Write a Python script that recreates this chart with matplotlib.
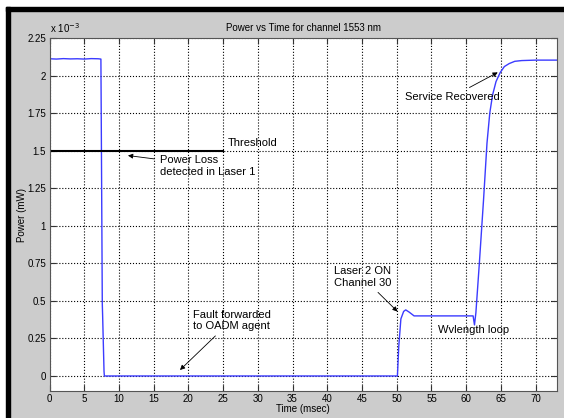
import matplotlib.pyplot as plt
from matplotlib.ticker import MultipleLocator, FormatStrFormatter
from matplotlib.patches import Rectangle

# time in msec, power in units of 1e-3 mW
t = [0, 1, 2, 3, 4, 5, 6, 7, 7.4, 7.45, 7.6, 7.65, 7.85, 7.9, 10, 20, 30, 40,
     50.1, 50.3, 50.6, 51.0, 51.3, 51.8, 52.5, 55, 60, 61.0, 61.2, 61.4,
     61.9, 62.5, 63.0, 63.4, 63.8, 64.3, 64.9, 65.5, 66.2, 67, 68, 70, 73]
power = [2.112, 2.110, 2.113, 2.111, 2.112, 2.110, 2.113, 2.112, 2.11, 1.72, 0.48, 0.40, 0.03, 0, 0, 0, 0, 0,
         0, 0.2, 0.38, 0.43, 0.44, 0.425, 0.40, 0.40, 0.40, 0.40, 0.34, 0.42,
         0.75, 1.17, 1.55, 1.75, 1.87, 1.96, 2.02, 2.06, 2.08, 2.095, 2.1, 2.103, 2.103]

thresh_t = [0, 25]
thresh_p = [1.5, 1.5]

plt.rcParams['font.family'] = 'Liberation Sans'
plt.rcParams['font.size'] = 7

fig = plt.figure(figsize=(5.64, 4.18), dpi=100, facecolor='#cccccc')
ax = fig.add_axes([0.0878, 0.0646, 0.9, 0.8444])

ax.plot(t, power, color='#3b3bff', lw=1.0)
ax.plot(thresh_t, thresh_p, 'k', lw=1.5)

ax.set_xlim(0, 73.1)
ax.set_ylim(-0.1, 2.25)
ax.xaxis.set_major_locator(MultipleLocator(5))
ax.yaxis.set_major_locator(MultipleLocator(0.25))
ax.yaxis.set_major_formatter(FormatStrFormatter('%g'))
ax.grid(True, color='k', linestyle=':', lw=0.8)
ax.tick_params(direction='in', top=True, right=True, length=4, color='#333333',
               labelsize=7, pad=2.5)
for s in ax.spines.values():
    s.set_color('#555555')

ax.set_title('Power vs Time for channel 1553 nm', fontsize=7, pad=5)
ax.set_xlabel('Time (msec)', fontsize=7)
ax.set_ylabel('Power (mW)', fontsize=7)
ax.xaxis.set_label_coords(0.5, -0.038)
ax.yaxis.set_label_coords(-0.045, 0.5)
ax.text(0, 1.01, 'x 10$^{-3}$', transform=ax.transAxes, fontsize=7, va='bottom')

ap = dict(arrowstyle='-|>', color='k', lw=0.6, mutation_scale=7)
ax.text(25.7, 1.52, 'Threshold', fontsize=8, va='bottom')
ax.annotate('Power Loss\ndetected in Laser 1', xy=(10.9, 1.47), xytext=(15.9, 1.4),
            fontsize=8, va='center', arrowprops=ap)
ax.annotate('Fault forwarded\nto OADM agent', xy=(18.5, 0.027), xytext=(20.6, 0.37),
            fontsize=8, va='center', arrowprops=ap)
ax.annotate('Laser 2 ON\nChannel 30', xy=(50.4, 0.416), xytext=(40.9, 0.66),
            fontsize=8, va='center', arrowprops=ap)
ax.text(56.0, 0.305, 'Wvlength loop', fontsize=8, va='center')
ax.annotate('Service Recovered', xy=(64.9, 2.03), xytext=(51.2, 1.86),
            fontsize=8, va='center', arrowprops=ap)

# white margin and black frame at the top and left of the screenshot
fig.patches.append(Rectangle((0, 1 - 7 / 418), 1, 7 / 418, transform=fig.transFigure,
                             color='white', zorder=5))
fig.patches.append(Rectangle((0, 0), 6 / 564, 1, transform=fig.transFigure,
                             color='white', zorder=5))
fig.patches.append(Rectangle((6 / 564, 0), 4 / 564, 1 - 7 / 418, transform=fig.transFigure,
                             color='k', zorder=5))
fig.patches.append(Rectangle((6 / 564, 1 - 11 / 418), 1 - 6 / 564, 4 / 418,
                             transform=fig.transFigure, color='k', zorder=5))

fig.savefig('out.png', dpi=100, facecolor=fig.get_facecolor())
